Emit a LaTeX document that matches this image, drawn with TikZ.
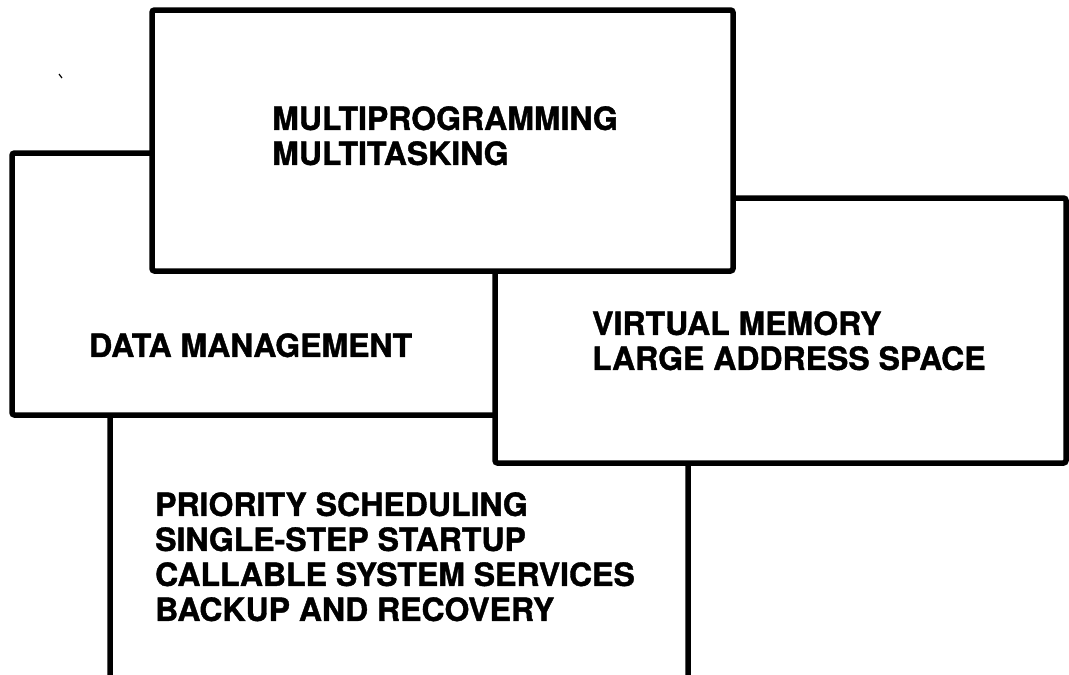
\documentclass[tikz,border=0pt]{standalone}
\usepackage{fontspec}
\setmainfont{TeX Gyre Heros}
\newfontfamily\heavyfont{TeX Gyre Heros Bold}[FakeBold=1.2]
\usepackage{tikz}

\begin{document}
\begin{tikzpicture}[
  x=1pt, y=-1pt,
  box/.style={draw, fill=white, line width=5.5pt, rounded corners=2.5pt},
  boxtext/.style={anchor=north west, inner sep=0pt, align=left,
    font=\fontsize{32}{35}\selectfont\heavyfont},
  ]
  \def\Wd{1069}
  \def\Ht{675}

  \useasboundingbox (0, 0) rectangle (\Wd, \Ht);
  \clip (0, 0) rectangle (\Wd, \Ht);

  % Bottom box (runs off the page)
  \draw[box] (110, 415) rectangle (688, 700);
  \node[boxtext] (sched) at (155, 492)
    {PRIORITY SCHEDULING\\SINGLE-STEP STARTUP\\CALLABLE SYSTEM SERVICES\\BACKUP AND RECOVERY};

  % Data management box
  \draw[box] (12, 153) rectangle (560, 415);
  \node[boxtext] (data) at (89, 333) {DATA MANAGEMENT};

  % Virtual memory box
  \draw[box] (495, 198) rectangle (1066, 463);
  \node[boxtext] (virtual) at (592, 311) {VIRTUAL MEMORY\\LARGE ADDRESS SPACE};

  % Top box
  \draw[box] (152, 10) rectangle (733, 271);
  \node[boxtext] (multi) at (272, 106) {MULTIPROGRAMMING\\MULTITASKING};

  % speck
  \draw[line width=1.2pt] (59, 74) -- (62, 78);
\end{tikzpicture}
\end{document}
